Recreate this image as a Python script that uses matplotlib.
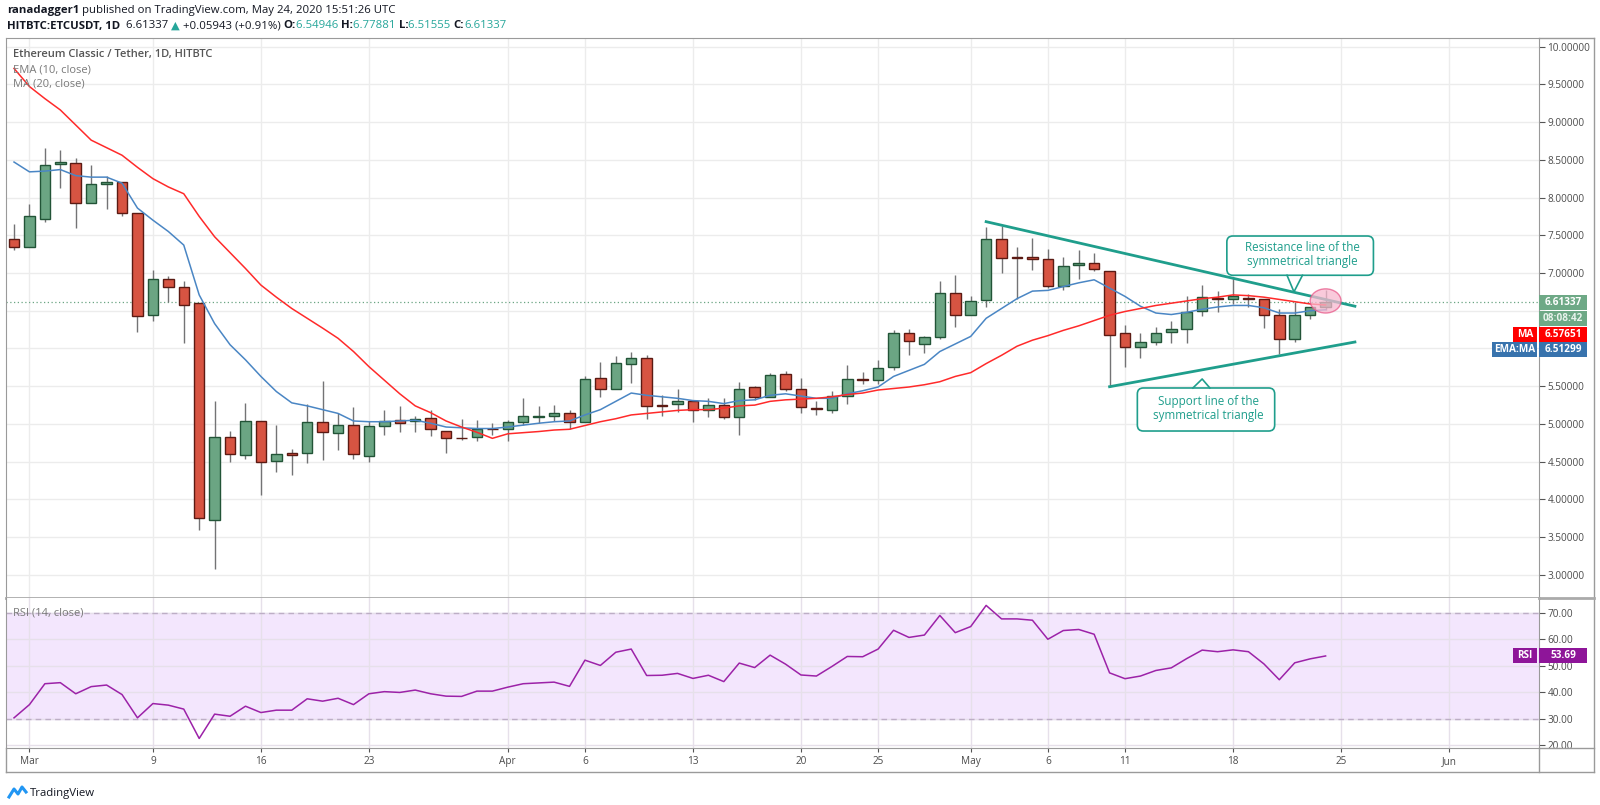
import numpy as np
import pandas as pd
import matplotlib
matplotlib.use('Agg')
import matplotlib.pyplot as plt
from matplotlib.patches import Rectangle, FancyBboxPatch, Ellipse, Polygon
from matplotlib.lines import Line2D
from matplotlib.transforms import IdentityTransform

plt.rcParams['font.family'] = ['Open Sans', 'DejaVu Sans']

W, H = 1600, 805

# daily candles, Feb 29 - May 24 2020
start = pd.Timestamp('2020-02-29')
dates = pd.date_range(start, '2020-05-24', freq='D')

opens = [7.45, 7.34, 7.71, 8.44, 8.46, 7.93, 8.18, 8.20, 7.80, 6.44,
         6.92, 6.82, 6.60, 3.73, 4.83, 4.59, 5.04, 4.51, 4.61, 4.61,
         5.03, 4.88, 4.99, 4.58, 4.97, 5.05, 5.04, 5.08, 4.91, 4.82,
         4.83, 4.94, 4.94, 5.03, 5.09, 5.11, 5.15, 5.02, 5.61, 5.46,
         5.80, 5.88, 5.255, 5.27, 5.30, 5.19, 5.25, 5.09, 5.49, 5.36,
         5.66, 5.47, 5.21, 5.19, 5.37, 5.60, 5.58, 5.75, 6.20, 6.06,
         6.15, 6.73, 6.45, 6.64, 7.45, 7.21, 7.21, 7.19, 6.83, 7.10,
         7.13, 7.03, 6.20, 6.02, 6.08, 6.22, 6.26, 6.50, 6.67, 6.66,
         6.665, 6.66, 6.44, 6.12, 6.45, 6.54946]
highs = [7.65, 7.91, 8.65, 8.63, 8.52, 8.43, 8.29, 8.21, 7.80, 7.04,
         6.96, 6.89, 6.60, 5.31, 4.91, 5.28, 5.04, 4.99, 4.67, 5.27,
         5.57, 5.14, 5.22, 5.04, 5.19, 5.24, 5.10, 5.19, 4.91, 5.06,
         5.05, 5.01, 5.05, 5.34, 5.24, 5.25, 5.18, 5.63, 5.82, 5.90,
         5.96, 5.91, 5.38, 5.47, 5.30, 5.34, 5.35, 5.56, 5.50, 5.68,
         5.70, 5.61, 5.30, 5.44, 5.78, 5.69, 5.85, 6.24, 6.26, 6.16,
         6.89, 6.98, 6.69, 7.61, 7.62, 7.34, 7.47, 7.32, 7.21, 7.31,
         7.27, 7.03, 6.31, 6.21, 6.28, 6.36, 6.70, 6.84, 6.76, 6.95,
         6.72, 6.66, 6.52, 6.61, 6.55, 6.77881]
lows = [7.31, 7.34, 7.68, 8.12, 7.60, 7.93, 7.85, 7.75, 6.22, 6.36,
        6.61, 6.07, 3.60, 3.08, 4.49, 4.54, 4.06, 4.37, 4.32, 4.48,
        4.52, 4.66, 4.53, 4.50, 4.86, 4.89, 4.90, 4.84, 4.61, 4.79,
        4.78, 4.86, 4.77, 4.99, 5.01, 5.04, 4.93, 5.02, 5.36, 5.46,
        5.54, 5.06, 5.11, 5.16, 5.03, 5.09, 5.07, 4.86, 5.32, 5.36,
        5.44, 5.15, 5.12, 5.15, 5.27, 5.53, 5.53, 5.71, 5.92, 5.94,
        6.12, 6.29, 6.45, 6.55, 7.00, 6.66, 7.04, 6.80, 6.78, 6.92,
        7.02, 5.49, 5.75, 5.88, 6.04, 6.07, 6.07, 6.43, 6.49, 6.59,
        6.55, 6.27, 5.93, 6.08, 6.39, 6.51555]
closes = [7.34, 7.75, 8.43, 8.47, 7.93, 8.18, 8.21, 7.80, 6.43, 6.92,
          6.81, 6.57, 3.76, 4.83, 4.60, 5.04, 4.49, 4.60, 4.59, 5.03,
          4.89, 4.99, 4.60, 4.97, 5.04, 5.01, 5.07, 4.93, 4.81, 4.81,
          4.94, 4.93, 5.02, 5.10, 5.11, 5.14, 5.02, 5.60, 5.46, 5.81,
          5.88, 5.24, 5.24, 5.30, 5.18, 5.25, 5.09, 5.47, 5.36, 5.65,
          5.47, 5.22, 5.20, 5.375, 5.60, 5.58, 5.74, 6.20, 6.10, 6.15,
          6.73, 6.44, 6.625, 7.45, 7.20, 7.20, 7.19, 6.83, 7.09, 7.13,
          7.05, 6.18, 6.02, 6.08, 6.20, 6.26, 6.49, 6.685, 6.66, 6.70,
          6.66, 6.44, 6.12, 6.45, 6.55, 6.61337]

# indicator values
ema10 = [8.47, 8.34, 8.35, 8.37, 8.29, 8.27, 8.27, 8.19, 7.86, 7.70,
         7.55, 7.37, 6.71, 6.33, 6.05, 5.85, 5.63, 5.43, 5.28, 5.24,
         5.19, 5.14, 5.04, 5.03, 5.03, 5.04, 5.05, 5.01, 4.96, 4.95,
         4.94, 4.94, 4.96, 4.985, 5.01, 5.03, 5.04, 5.12, 5.19, 5.30,
         5.41, 5.38, 5.36, 5.34, 5.31, 5.30, 5.27, 5.31, 5.32, 5.38,
         5.40, 5.37, 5.34, 5.34, 5.40, 5.44, 5.49, 5.63, 5.71, 5.79,
         5.96, 6.06, 6.16, 6.40, 6.53, 6.66, 6.76, 6.77, 6.82, 6.87,
         6.91, 6.80, 6.69, 6.56, 6.47, 6.45, 6.48, 6.52, 6.55, 6.57,
         6.57, 6.54, 6.47, 6.47, 6.50, 6.51299]
ma20 = [9.71, 9.47, 9.31, 9.16, 8.96, 8.76, 8.66, 8.56, 8.40, 8.25,
        8.14, 8.05, 7.75, 7.48, 7.27, 7.06, 6.84, 6.68, 6.53, 6.40,
        6.27, 6.135, 5.96, 5.76, 5.58, 5.40, 5.24, 5.15, 5.04, 4.96,
        4.89, 4.81, 4.87, 4.885, 4.90, 4.92, 4.93, 4.98, 5.03, 5.07,
        5.12, 5.14, 5.16, 5.18, 5.19, 5.19, 5.21, 5.24, 5.25, 5.30,
        5.32, 5.33, 5.34, 5.36, 5.39, 5.41, 5.45, 5.47, 5.49, 5.52,
        5.56, 5.63, 5.68, 5.80, 5.91, 6.03, 6.11, 6.17, 6.24, 6.30,
        6.37, 6.44, 6.49, 6.53, 6.57, 6.60, 6.63, 6.66, 6.68, 6.71,
        6.70, 6.68, 6.65, 6.62, 6.59, 6.57651]
rsi14 = [30.3, 35.3, 43.2, 43.6, 39.4, 42.1, 42.7, 39.1, 30.3, 35.7,
         35.1, 33.6, 22.5, 31.7, 30.9, 34.7, 32.3, 33.2, 33.2, 37.5,
         36.6, 37.7, 35.3, 39.4, 40.2, 39.9, 40.8, 39.4, 38.5, 38.4,
         40.4, 40.4, 41.9, 43.2, 43.5, 43.8, 42.2, 52.1, 50.1, 55.1,
         56.3, 46.3, 46.4, 47.1, 45.2, 46.4, 44.0, 51.0, 49.3, 54.0,
         50.6, 46.5, 46.1, 49.7, 53.5, 53.4, 56.3, 63.4, 60.7, 61.6,
         69.0, 62.5, 64.8, 72.8, 67.7, 67.7, 67.2, 60.0, 63.3, 63.7,
         61.9, 47.3, 45.1, 46.1, 48.2, 49.2, 52.7, 55.9, 55.3, 56.0,
         55.3, 50.7, 44.7, 51.1, 52.6, 53.69]

last_price = 6.61337
last_ma = 6.57651
last_ema = 6.51299
last_rsi = 53.69

# triangle lines (day offset, price)
resist_x = [63.0, 86.9]
resist_y = [7.68, 6.56]
support_x = [71.0, 86.9]
support_y = [5.494, 6.086]

tick_dates = ['2020-03-01', '2020-03-09', '2020-03-16', '2020-03-23', '2020-04-01',
              '2020-04-06', '2020-04-13', '2020-04-20', '2020-04-25', '2020-05-01',
              '2020-05-06', '2020-05-11', '2020-05-18', '2020-05-25', '2020-06-01']
tick_labels = ['Mar', '9', '16', '23', 'Apr', '6', '13', '20', '25', 'May',
               '6', '11', '18', '25', 'Jun']

GREEN = '#6ba583'
GREEN_EDGE = '#225437'
RED = '#d75442'
RED_EDGE = '#5b1a13'
TEAL = '#1f9e8c'
BORDER = '#9a9a9a'
TXT = '#4c4c4c'


def fx(x):
    return x / W


def fy(y):
    return 1 - y / H


fig = plt.figure(figsize=(W / 100, H / 100), dpi=100)
fig.patch.set_facecolor('white')

ax = fig.add_axes([fx(6), fy(598), (1539 - 6) / W, (598 - 38) / H])
ax_rsi = fig.add_axes([fx(6), fy(748), (1539 - 6) / W, (748 - 598) / H], sharex=ax)

x = np.arange(len(dates))
o = np.array(opens)
hi = np.array(highs)
lo = np.array(lows)
c = np.array(closes)
up = c >= o

ax.vlines(x, lo, hi, color='#737375', lw=1, zorder=2)
ax.bar(x, np.abs(c - o), bottom=np.minimum(o, c), width=0.68,
       color=np.where(up, GREEN, RED), edgecolor=np.where(up, GREEN_EDGE, RED_EDGE),
       lw=1, zorder=3)
ax.plot(x, ema10, color='#4a86c4', lw=1.1, zorder=4)
ax.plot(x, ma20, color='#ff2a2a', lw=1.1, zorder=4)
ax.axhline(last_price, color=GREEN, ls=(0, (1, 2)), lw=0.9, zorder=1)

ax.plot(resist_x, resist_y, color=TEAL, lw=2, zorder=5)
ax.plot(support_x, support_y, color=TEAL, lw=2, zorder=5)
ax.add_patch(Ellipse((85.0, 6.63), 2.0, 0.32, facecolor='#f7b9cf', alpha=0.75,
                     edgecolor='#e85a8a', lw=1, zorder=6))

tick_pos = [(pd.Timestamp(d) - start).days for d in tick_dates]

ax.set_xlim(-0.52, 98.83)
ax.set_ylim(2.695, 10.113)
yt = np.arange(3.0, 10.01, 0.5)
ax.set_yticks(yt)
ax.set_yticklabels(['' if abs(v - 6.0) < 1e-6 or abs(v - 6.5) < 1e-6 else '%.5f' % v for v in yt])
ax.yaxis.tick_right()
ax.tick_params(axis='y', direction='out', length=4, color='#555555', labelcolor=TXT,
               labelsize=7.2, pad=2)
ax.tick_params(axis='x', length=0, labelbottom=False)
ax.set_xticks(tick_pos)
ax.grid(True, color='#ececec', lw=1, zorder=0)
ax.set_axisbelow(True)
for s in ['top', 'left', 'right']:
    ax.spines[s].set_color(BORDER)
ax.spines['bottom'].set_color('#aaaaaa')
ax.spines['bottom'].set_linewidth(2)

# RSI pane
ax_rsi.axhspan(30, 70, color='#f3e6fd', zorder=0)
ax_rsi.axhline(70, color='#bdaec6', ls=(0, (4, 3)), lw=1, zorder=1)
ax_rsi.axhline(30, color='#bdaec6', ls=(0, (4, 3)), lw=1, zorder=1)
ax_rsi.plot(x, rsi14, color='#9c22a8', lw=1.1, zorder=3)
ax_rsi.set_ylim(18.9, 75.6)
rt = [20, 30, 40, 50, 60, 70]
ax_rsi.set_yticks(rt)
ax_rsi.set_yticklabels(['%.2f' % v for v in rt])
ax_rsi.yaxis.tick_right()
ax_rsi.tick_params(axis='y', direction='out', length=4, color='#555555', labelcolor=TXT,
                   labelsize=7.2, pad=2)
ax_rsi.set_xticks(tick_pos)
ax_rsi.set_xticklabels(tick_labels)
ax_rsi.tick_params(axis='x', direction='out', length=3, color='#555555', labelcolor=TXT,
                   labelsize=7.2, pad=3)
ax_rsi.grid(True, color='#e6e0ea', lw=1, zorder=0)
ax_rsi.set_axisbelow(True)
for s in ['top', 'left', 'right', 'bottom']:
    ax_rsi.spines[s].set_color(BORDER)
ax_rsi.spines['top'].set_visible(False)

# outer frame pieces outside the axes
def fline(x0, y0, x1, y1, color=BORDER, lw=1):
    fig.add_artist(Line2D([fx(x0), fx(x1)], [fy(y0), fy(y1)], color=color, lw=lw,
                          transform=fig.transFigure))

fline(6, 748, 6, 772)
fline(6, 772, 1594, 772)
fline(1594, 38, 1594, 772)
fline(1539, 38, 1594, 38)
fline(1539, 748, 1539, 772)
fline(1539, 598, 1594, 598, color='#aaaaaa', lw=2)
fline(1539, 748, 1594, 748)

# header
renderer = fig.canvas.get_renderer()


def put_row(x0, y, pieces, size):
    xx = x0
    for txt, col, wt in pieces:
        t = fig.text(fx(xx), fy(y), txt, color=col, fontsize=size, fontweight=wt,
                     ha='left', va='center')
        xx += t.get_window_extent(renderer=renderer).width


put_row(7, 11, [('ranadagger1', '#131722', 'bold'),
                (' published on TradingView.com, May 24, 2020 15:51:26 UTC', '#131722', 'normal')], 8.2)
put_row(7, 26, [('HITBTC:ETCUSDT, 1D ', '#131722', 'bold'),
                (' 6.61337 ', '#131722', 'normal'), ('\u25b2', '#26a69a', 'normal'),
                (' +0.05943 (+0.91%) ', '#131722', 'normal'),
                ('O:', '#131722', 'bold'), ('6.54946 ', '#26a69a', 'normal'),
                ('H:', '#131722', 'bold'), ('6.77881 ', '#26a69a', 'normal'),
                ('L:', '#131722', 'bold'), ('6.51555 ', '#26a69a', 'normal'),
                ('C:', '#131722', 'bold'), ('6.61337', '#26a69a', 'normal')], 8.2)

fig.text(fx(13), fy(54), 'Ethereum Classic / Tether, 1D, HITBTC', color='#555555',
         fontsize=8, fontweight='semibold', va='center')
fig.text(fx(13), fy(70), 'EMA (10, close)', color='#7a7a7a', fontsize=8, va='center')
fig.text(fx(13), fy(84), 'MA (20, close)', color='#7a7a7a', fontsize=8, va='center')
fig.text(fx(13), fy(613), 'RSI (14, close)', color='#7a7a7a', fontsize=8, va='center')


# price scale tags
def tag(x0, x1, yc, h, color, text, tcolor='white', weight='bold'):
    fig.add_artist(Rectangle((fx(x0), fy(yc + h / 2)), (x1 - x0) / W, h / H,
                             transform=fig.transFigure, facecolor=color,
                             edgecolor='none', zorder=10))
    fig.text(fx((x0 + x1) / 2), fy(yc), text, color=tcolor, fontsize=7.2,
             fontweight=weight, ha='center', va='center', zorder=11)


def to_px(axes, xv, yv):
    px, py = axes.transData.transform((xv, yv))
    return px, H - py


_, y_price = to_px(ax, 0, last_price)
tag(1539, 1587, y_price, 15, '#6ea986', '%.5f' % last_price)
tag(1539, 1587, y_price + 16, 15, '#6ea986', '08:08:42', '#e8f3ec')
tag(1539, 1587, y_price + 32, 15, '#ff0000', '%.5f' % last_ma)
tag(1513, 1537, y_price + 32, 15, '#ff0000', 'MA')
tag(1539, 1587, y_price + 47, 15, '#3873ad', '%.5f' % last_ema)
tag(1492, 1537, y_price + 47, 15, '#3873ad', 'EMA:MA')

_, y_rsi = to_px(ax_rsi, 0, last_rsi)
tag(1539, 1587, y_rsi, 15, '#8e1599', '%.2f' % last_rsi)
tag(1513, 1537, y_rsi, 15, '#8e1599', 'RSI')


# callouts
def callout(x0, x1, ytop, ybot, tip, base, lines_txt, tx, ty, pointer_up):
    bx0, by0 = ax.transData.transform((x0, ybot))
    bx1, by1 = ax.transData.transform((x1, ytop))
    box = FancyBboxPatch((bx0, by0), bx1 - bx0, by1 - by0,
                         boxstyle='round,pad=0,rounding_size=6',
                         transform=IdentityTransform(), facecolor='white',
                         edgecolor=TEAL, lw=1.2, zorder=7)
    fig.add_artist(box)
    tpx = ax.transData.transform(tip)
    b0 = ax.transData.transform((base[0], ybot if not pointer_up else ytop))
    b1 = ax.transData.transform((base[1], ybot if not pointer_up else ytop))
    shift = 1.5 if pointer_up else -1.5
    fig.add_artist(Polygon([(b0[0], b0[1] + shift), tpx, (b1[0], b1[1] + shift)],
                           closed=True, transform=IdentityTransform(),
                           facecolor='white', edgecolor='none', zorder=8))
    fig.add_artist(Line2D([b0[0], tpx[0], b1[0]], [b0[1], tpx[1], b1[1]],
                          color=TEAL, lw=1.2, transform=IdentityTransform(), zorder=9))
    txp = ax.transData.transform((tx, ty))
    fig.text(txp[0], txp[1], lines_txt, transform=IdentityTransform(), color=TEAL,
             fontsize=8.4, ha='center', va='center', linespacing=1.05, zorder=12)


callout(78.6, 88.1, 7.49, 6.97, (82.95, 6.75), (82.5, 83.5),
        'Resistance line of the\nsymmetrical triangle', 83.5, 7.245, False)
callout(72.8, 81.7, 5.477, 4.907, (77.0, 5.596), (76.4, 77.5),
        'Support line of the\nsymmetrical triangle', 77.4, 5.205, True)

# footer logo
fig.add_artist(Line2D([fx(9), fx(14), fx(18), fx(22), fx(26)],
                      [fy(797), fy(789), fy(794), fy(787), fy(792)],
                      color='#2196f3', lw=2.2, transform=fig.transFigure))
fig.text(fx(30), fy(793), 'TradingView', color='#131722', fontsize=8.2, va='center')

fig.savefig('out.png', dpi=100, facecolor='white')
